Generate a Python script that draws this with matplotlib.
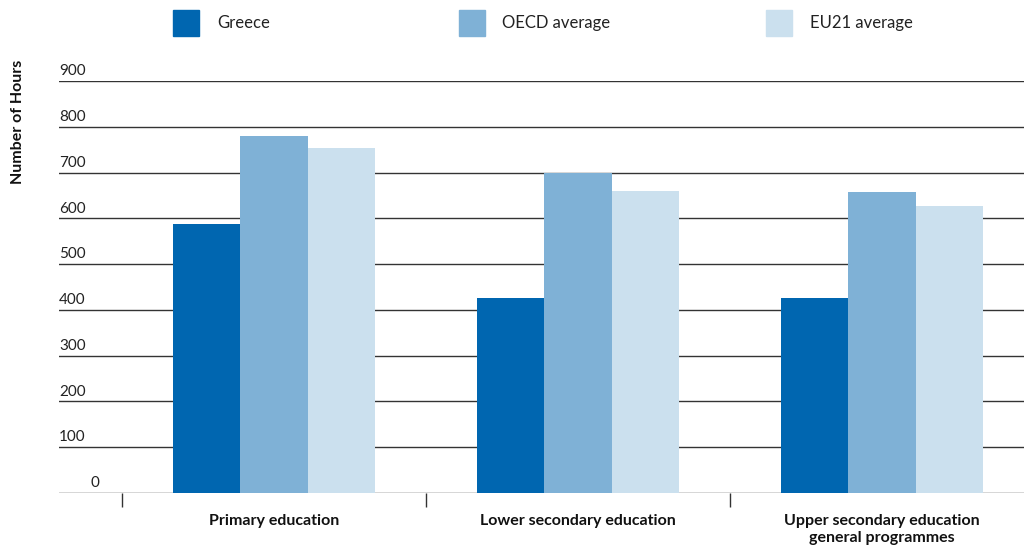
import matplotlib
matplotlib.use("Agg")
import matplotlib.pyplot as plt
import numpy as np

categories = ["Primary education", "Lower secondary education",
              "Upper secondary education\ngeneral programmes"]
series_names = ["Greece", "OECD average", "EU21 average"]
greece = [588, 426, 426]
oecd = [780, 699, 657]
eu21 = [754, 660, 627]
yticks = [0, 100, 200, 300, 400, 500, 600, 700, 800, 900]

colors = ["#0066b0", "#7fb1d6", "#cbe0ee"]
plt.rcParams['font.family'] = ['Lato', 'DejaVu Sans']

fig = plt.figure(figsize=(10.24, 5.5), dpi=100)
W, H = 1024, 550
ax = fig.add_axes([59 / W, (H - 493) / H, (1024 - 59) / W, (493 - 81) / H])

x = np.arange(len(categories))
bw = 0.222
for i, (vals, c) in enumerate(zip([greece, oecd, eu21], colors)):
    ax.bar(x + (i - 1) * bw, vals, width=bw, color=c, zorder=3, linewidth=0)

for s in ax.spines.values():
    s.set_visible(False)
ax.set_yticks([])
ax.set_xticks([-0.5, 0.5, 1.5])
ax.set_xticklabels([])
ax.tick_params(axis="x", length=10, width=1, color="#333333", direction="out")
ax.set_xlim(-0.707, 2.467)
ax.set_ylim(0, 900)

for v in yticks:
    ax.axhline(v, color="#333333", lw=1, zorder=1)
    if v == 0:
        ax.text(-0.59, v + 6, "0", ha="center", va="bottom", fontsize=11, color="#222222")
    else:
        ax.text(-0.707, v + 6, str(v), ha="left", va="bottom", fontsize=11, color="#222222")

for xi, lab in zip(x, categories):
    ax.text(xi, -46, lab, ha="center", va="top", fontsize=11.5, fontweight="bold",
            color="#111111", linespacing=1.3)

fig.text(18 / W, 1 - 122 / H, "Number of Hours", rotation=90, ha="center", va="center",
         fontsize=11.5, fontweight="bold", color="#111111")

# legend
leg_sq = [173, 459, 766]
leg_tx = [217, 502, 810]
for sx, tx, name, c in zip(leg_sq, leg_tx, series_names, colors):
    fig.patches.append(plt.Rectangle((sx / W, 1 - 36 / H), 26 / W, 26 / H,
                                     transform=fig.transFigure, color=c, figure=fig))
    fig.text(tx / W, 1 - 23 / H, name, ha="left", va="center", fontsize=12, color="#222222")

fig.savefig("out.png", dpi=100)
